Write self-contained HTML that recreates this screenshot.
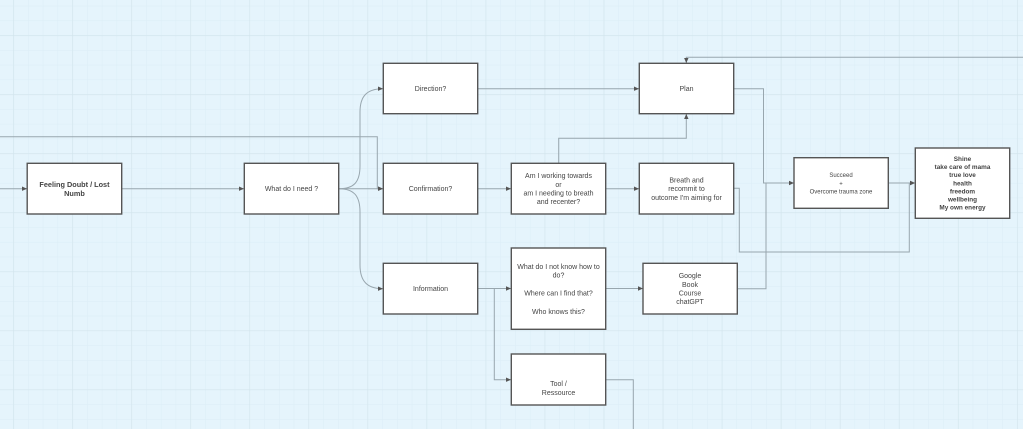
<!DOCTYPE html>
<html>
<head>
<meta charset="utf-8">
<style>
html,body{margin:0;padding:0;width:1023px;height:429px;overflow:hidden;background:#e5f4fc;}
svg{display:block;}
text{font-family:"Liberation Sans",sans-serif;fill:#444;}
</style>
</head>
<body>
<svg width="1023" height="429" viewBox="0 0 1023 429" xmlns="http://www.w3.org/2000/svg">
<defs>
<pattern id="minor" x="13.3" y="35.3" width="14.76" height="14.76" patternUnits="userSpaceOnUse">
<path d="M0 0 H14.76 M0 0 V14.76" stroke="#dbedf6" stroke-width="1" fill="none"/>
</pattern>
<pattern id="major" x="13.3" y="35.3" width="59.04" height="59.04" patternUnits="userSpaceOnUse">
<path d="M0 0 H59.04 M0 0 V59.04" stroke="#d2e4ec" stroke-width="1.2" fill="none"/>
</pattern>
<marker id="ar" markerWidth="6" markerHeight="6" refX="5" refY="3" orient="auto" markerUnits="userSpaceOnUse">
<path d="M0,0.8 L5,3 L0,5.2 Z" fill="#555"/>
</marker>
</defs>
<rect width="1023" height="429" fill="#e5f4fc"/>
<rect width="1023" height="429" fill="url(#minor)"/>
<rect width="1023" height="429" fill="url(#major)"/>

<g fill="none" stroke="#98a6ae" stroke-width="1">
<path d="M0 188.7 H27" marker-end="url(#ar)"/>
<path d="M122 188.7 H244" marker-end="url(#ar)"/>
<path d="M0 136.7 H377.3 V188.7 H383" marker-end="url(#ar)"/>
<path d="M339 188.7 H383" marker-end="url(#ar)"/>
<path d="M339 188.7 C354 188.7 360 182 360 166 V112 C360 96 367 88.7 383 88.7" marker-end="url(#ar)"/>
<path d="M339 188.7 C354 188.7 360 196 360 212 V265 C360 281 367 288.7 383 288.7" marker-end="url(#ar)"/>
<path d="M478 88.7 H639" marker-end="url(#ar)"/>
<path d="M478 188.7 H511" marker-end="url(#ar)"/>
<path d="M606 188.7 H639" marker-end="url(#ar)"/>
<path d="M558.7 163 V138.3 H686.3 V114" marker-end="url(#ar)"/>
<path d="M1023 57.3 H686.3 V63" marker-end="url(#ar)"/>
<path d="M734 88.7 H763.5 V183 H794" marker-end="url(#ar)"/>
<path d="M737 288.7 H766 V183"/>
<path d="M734 188.3 H739.3 V252 H909.3 V183 H915" marker-end="url(#ar)"/>
<path d="M888 183 H915" marker-end="url(#ar)"/>
<path d="M478 288.5 H511" marker-end="url(#ar)"/>
<path d="M494.3 288.5 V379.7 H511" marker-end="url(#ar)"/>
<path d="M606 288.5 H643" marker-end="url(#ar)"/>
<path d="M606 379.7 H633.3 V429"/>
</g>

<g fill="#fff" stroke="#555" stroke-width="1.4">
<rect x="27.2" y="163.3" width="94.5" height="50.7"/>
<rect x="244.3" y="163.3" width="94.4" height="50.7"/>
<rect x="383.3" y="63.3" width="94.4" height="50.4"/>
<rect x="639.3" y="63.3" width="94.4" height="50.4"/>
<rect x="383.3" y="163.3" width="94.4" height="50.7"/>
<rect x="511.3" y="163.3" width="94.4" height="50.7"/>
<rect x="639.3" y="163.3" width="94.4" height="50.7"/>
<rect x="383.3" y="263.3" width="94.4" height="50.7"/>
<rect x="511.3" y="248" width="94.4" height="81.3"/>
<rect x="643" y="263.3" width="94.3" height="50.7"/>
<rect x="511.3" y="354" width="94.4" height="51"/>
<rect x="794" y="157.7" width="94.3" height="50.6"/>
<rect x="915.3" y="148" width="94.4" height="70.3"/>
</g>

<g font-size="7" text-anchor="middle">
<text x="74.5" y="186.8" font-weight="bold" fill="#333" font-size="7.3">Feeling Doubt / Lost</text>
<text x="74.5" y="195.8" font-weight="bold" fill="#333" font-size="7.3">Numb</text>

<text x="291.5" y="191.2">What do I need ?</text>
<text x="430.5" y="90.8">Direction?</text>
<text x="686.5" y="90.8">Plan</text>
<text x="430.5" y="191.2">Confirmation?</text>

<text x="558.5" y="178.2">Am I working towards</text>
<text x="558.5" y="186.8">or</text>
<text x="558.5" y="195.5">am I needing to breath</text>
<text x="558.5" y="204.2">and recenter?</text>

<text x="686.5" y="182.5">Breath and</text>
<text x="686.5" y="191.2">recommit to</text>
<text x="686.5" y="200">outcome I'm aiming for</text>

<text x="430.5" y="291">Information</text>

<text x="558.5" y="268.8">What do I not know how to</text>
<text x="558.5" y="277.5">do?</text>
<text x="558.5" y="295.5">Where can I find that?</text>
<text x="558.5" y="313.8">Who knows this?</text>

<text x="690" y="278.2">Google</text>
<text x="690" y="286.8">Book</text>
<text x="690" y="295.5">Course</text>
<text x="690" y="304.2">chatGPT</text>

<text x="558.5" y="386">Tool /</text>
<text x="558.5" y="395">Ressource</text>

<text x="841" y="177" font-size="6">Succeed</text>
<text x="841" y="185.3" font-size="6">+</text>
<text x="841" y="193.7" font-size="6">Overcome trauma zone</text>

<g font-weight="bold" fill="#333" font-size="6.4">
<text x="962.5" y="161.2">Shine</text>
<text x="962.5" y="169.2">take care of mama</text>
<text x="962.5" y="177.2">true love</text>
<text x="962.5" y="185.3">health</text>
<text x="962.5" y="193.5">freedom</text>
<text x="962.5" y="201.6">wellbeing</text>
<text x="962.5" y="209.7">My own energy</text>
</g>
</g>
</svg>
</body>
</html>
